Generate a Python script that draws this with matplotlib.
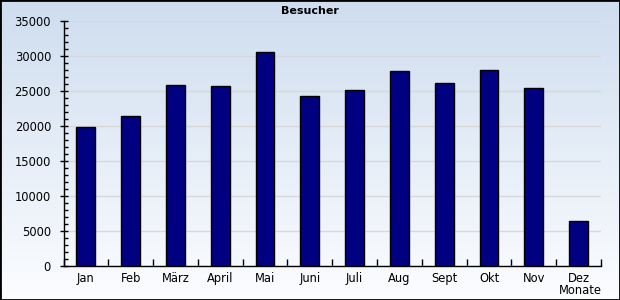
import matplotlib
matplotlib.use("Agg")
import matplotlib.pyplot as plt
import numpy as np
from matplotlib.ticker import MultipleLocator, FixedLocator
from matplotlib.patches import Rectangle

months = ["Jan", "Feb", "März", "April", "Mai", "Juni", "Juli", "Aug", "Sept", "Okt", "Nov", "Dez"]
visitors = [19900, 21430, 25860, 25710, 30570, 24290, 25140, 27900, 26190, 28040, 25430, 6470]
title = "Besucher"
xlabel = "Monate"

W, H, DPI = 620, 300, 100
fig = plt.figure(figsize=(W / DPI, H / DPI), dpi=DPI)

# background gradient
bg = fig.add_axes([0, 0, 1, 1], zorder=0)
top = np.array([206, 221, 239]) / 255
bot = np.array([252, 253, 255]) / 255
t = np.linspace(0, 1, 256)[:, None]
grad = top[None, :] * (1 - t) + bot[None, :] * t
bg.imshow(grad[:, None, :].repeat(2, axis=1), aspect="auto", extent=[0, 1, 0, 1], origin="upper")
bg.set_xlim(0, 1); bg.set_ylim(0, 1)
bg.axis("off")
bg.add_patch(Rectangle((0, 0), 1, 1, transform=bg.transAxes, fill=False, edgecolor="black", linewidth=2.0, clip_on=False))

left, right, ytop, ybot = 63.5, 601, 21.3, 266.3
ax = fig.add_axes([left / W, 1 - ybot / H, (right - left) / W, (ybot - ytop) / H], zorder=1)
ax.patch.set_alpha(0)

x = np.arange(len(months))
ax.bar(x, visitors, width=0.42, color="#000080", edgecolor="black", linewidth=1.0, zorder=3)
ax.set_xlim(-0.5, len(months) - 0.5)
ax.set_ylim(0, 35000)

ax.yaxis.set_major_locator(MultipleLocator(5000))
ax.yaxis.set_minor_locator(MultipleLocator(1000))
ax.grid(axis="y", which="major", color="#d8d8d8", linewidth=1.0, zorder=1)
ax.set_axisbelow(True)

ax.set_xticks(x)
ax.set_xticklabels(months)
ax.xaxis.set_minor_locator(FixedLocator(np.arange(-0.5, len(months), 1.0)))
ax.tick_params(axis="x", which="major", length=0, pad=4, labelsize=8.3)
ax.tick_params(axis="x", which="minor", direction="in", length=5, width=1)
ax.tick_params(axis="y", which="major", direction="inout", length=6, width=1, labelsize=8.3, pad=6)
ax.tick_params(axis="y", which="minor", direction="in", length=3, width=1)

for s in ["top", "right"]:
    ax.spines[s].set_visible(False)
for s in ["left", "bottom"]:
    ax.spines[s].set_linewidth(1.0)
    ax.spines[s].set_color("black")

fig.text(310 / W, 1 - 10.5 / H, title, ha="center", va="center", fontsize=8, fontweight="bold")
fig.text(580 / W, 1 - 290 / H, xlabel, ha="center", va="center", fontsize=8.3)

fig.savefig("out.png", dpi=DPI)
